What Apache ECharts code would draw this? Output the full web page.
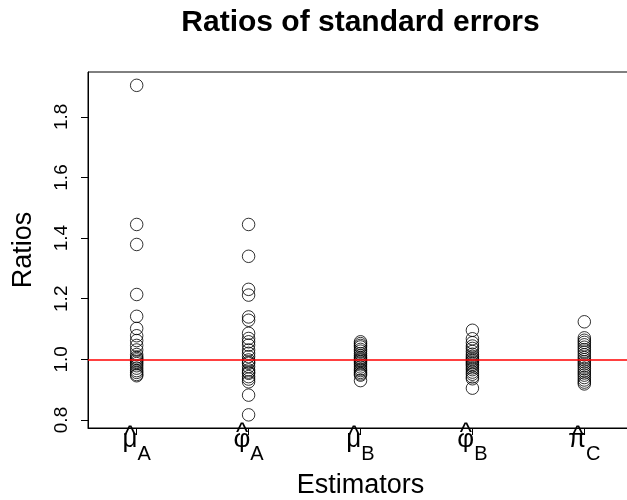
<!DOCTYPE html>
<html>
<head>
<meta charset="utf-8">
<script src="https://cdn.jsdelivr.net/npm/echarts@6/dist/echarts.min.js"></script>
<style>
  html, body { margin: 0; padding: 0; background: #fff; }
  #chart { width: 627px; height: 500px; }
</style>
</head>
<body>
<div id="chart"></div>
<script>
// Estimator labels: Greek symbol (drawn with a hat) and subscript letter
const symbols = ['μ', 'φ', 'μ', 'φ', 'π'];
const subscripts = ['A', 'A', 'B', 'B', 'C'];

// Ratios of standard errors for each estimator
const muA = [1.904, 1.445, 1.379, 1.214, 1.142, 1.102, 1.078, 1.062, 1.046, 1.031, 1.016, 1.008, 1.003, 0.998, 0.992, 0.986, 0.979, 0.971, 0.963, 0.957, 0.950, 0.946];
const phiA = [1.445, 1.340, 1.231, 1.212, 1.140, 1.129, 1.086, 1.069, 1.058, 1.047, 1.031, 1.020, 1.009, 0.998, 0.991, 0.987, 0.976, 0.965, 0.958, 0.954, 0.943, 0.935, 0.926, 0.882, 0.817];
const muB = [1.058, 1.052, 1.046, 1.041, 1.033, 1.027, 1.019, 1.012, 1.006, 1.001, 0.997, 0.993, 0.988, 0.982, 0.975, 0.968, 0.963, 0.957, 0.952, 0.948, 0.930];
const phiB = [1.096, 1.068, 1.055, 1.044, 1.036, 1.026, 1.017, 1.010, 1.004, 0.999, 0.994, 0.989, 0.984, 0.979, 0.972, 0.966, 0.958, 0.951, 0.942, 0.936, 0.905];
const piC = [1.124, 1.071, 1.063, 1.056, 1.048, 1.040, 1.032, 1.024, 1.015, 1.006, 0.999, 0.992, 0.985, 0.978, 0.970, 0.962, 0.955, 0.948, 0.940, 0.932, 0.925, 0.919];

const groups = [muA, phiA, muB, phiB, piC];
const groupPositions = [1, 2, 3, 4, 5];
const yTicks = [0.8, 1.0, 1.2, 1.4, 1.6, 1.8];
const referenceRatio = 1.0;

const FONT = '"Liberation Sans", Arial, Helvetica, sans-serif';
const X_MIN = 0.565, X_MAX = 5.435;

const points = [];
groups.forEach((vals, i) => {
  vals.forEach(v => points.push([groupPositions[i], v]));
});

function groupIndex(v) {
  return groupPositions.indexOf(Math.round(v));
}

const chart = echarts.init(document.getElementById('chart'), null, { renderer: 'canvas' });

chart.setOption({
  animation: false,
  backgroundColor: '#ffffff',
  textStyle: { fontFamily: FONT },
  graphic: [{
    type: 'text',
    x: 360.5,
    y: 8,
    style: {
      text: 'Ratios of standard errors',
      font: 'bold 30px ' + FONT,
      fill: '#000',
      textAlign: 'center',
      textVerticalAlign: 'top'
    }
  }],
  grid: {
    left: 88, top: 72, right: -6, bottom: 72,
    outerBoundsMode: 'none',
    containLabel: false,
    show: true,
    borderColor: '#000',
    borderWidth: 1,
    backgroundColor: 'transparent'
  },
  xAxis: {
    type: 'value',
    min: X_MIN,
    max: X_MAX,
    name: 'Estimators',
    nameLocation: 'middle',
    nameGap: 44,
    nameTextStyle: { fontSize: 27, color: '#000', fontFamily: FONT },
    splitLine: { show: false },
    axisLine: { show: true, onZero: false, lineStyle: { color: '#000', width: 1 } },
    axisTick: { show: true, length: 7, inside: false, customValues: groupPositions, lineStyle: { color: '#000' } },
    axisLabel: {
      customValues: groupPositions,
      margin: -5,
      color: '#000',
      formatter: function (v) {
        const i = groupIndex(v);
        if (i < 0) return '';
        const hat = symbols[i] === 'φ' ? '{hatHigh|^}' : '{hatLow|^}';
        return hat + '\n{sym|' + symbols[i] + '}{sub|' + subscripts[i] + '}';
      },
      rich: {
        hatHigh: { fontSize: 26, fontFamily: FONT, color: '#000', lineHeight: 4, padding: [17, 13, 0, 0] },
        hatLow: { fontSize: 26, fontFamily: FONT, color: '#000', lineHeight: 4, padding: [24, 13, 0, 0] },
        sym: { fontSize: 26, fontFamily: FONT, color: '#000', lineHeight: 26 },
        sub: { fontSize: 20, fontFamily: FONT, color: '#000', lineHeight: 20, padding: [29, 0, 0, 0] }
      }
    }
  },
  yAxis: {
    type: 'value',
    min: 0.7736,
    max: 1.948,
    name: 'Ratios',
    nameLocation: 'middle',
    nameGap: 51,
    nameRotate: 90,
    nameTextStyle: { fontSize: 27, color: '#000', fontFamily: FONT },
    splitLine: { show: false },
    axisLine: { show: true, onZero: false, lineStyle: { color: '#000', width: 1 } },
    axisTick: { show: true, length: 7, inside: false, customValues: yTicks, lineStyle: { color: '#000' } },
    axisLabel: {
      customValues: yTicks,
      rotate: 90,
      margin: 17,
      fontSize: 19,
      color: '#000',
      fontFamily: FONT,
      formatter: v => v.toFixed(1)
    }
  },
  series: [{
    type: 'scatter',
    data: points,
    symbol: 'circle',
    symbolSize: 12.5,
    itemStyle: { color: 'transparent', borderColor: '#000', borderWidth: 1 },
    silent: true,
    z: 3,
    markLine: {
      silent: true,
      symbol: ['none', 'none'],
      label: { show: false },
      lineStyle: { color: '#ff0000', width: 1.5, type: 'solid' },
      data: [{ yAxis: referenceRatio }]
    }
  }]
});
</script>
</body>
</html>
